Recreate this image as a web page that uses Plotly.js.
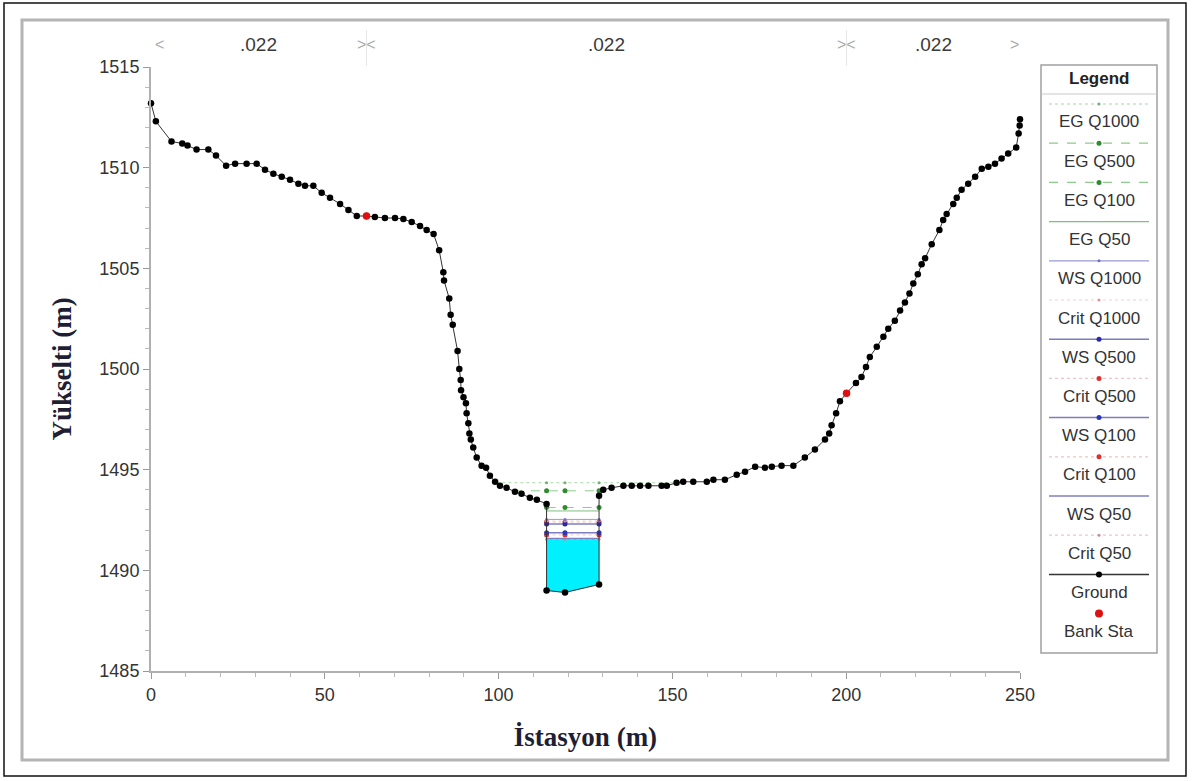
<!DOCTYPE html>
<html><head><meta charset="utf-8">
<script src="https://cdn.plot.ly/plotly-3.0.1.min.js"></script>
<style>html,body{margin:0;padding:0;background:#fff}#chart{width:1192px;height:781px}</style>
</head><body><div id="chart"></div>
<script>
// ---------------- DATA ----------------
const groundX = [0.0,1.4,5.9,9.0,10.5,13.1,16.5,18.7,21.6,24.2,27.5,30.4,32.8,35.2,37.6,40.0,42.4,44.3,46.7,49.1,
  51.5,54.4,56.8,59.2,62.0,64.4,67.3,70.2,72.6,75.0,77.4,79.3,81.3,82.9,84.1,84.3,85.8,86.2,86.8,88.2,
  88.7,89.1,89.2,89.9,90.6,90.8,91.3,91.6,92.0,92.7,93.7,95.1,96.4,97.5,99.0,100.4,102.3,104.7,106.6,109.0,
  111.0,113.8,113.8,119.1,128.9,128.9,130.1,132.5,135.9,138.3,140.7,143.1,146.9,148.4,151.2,153.1,156.0,159.9,161.8,165.1,
  168.5,170.9,173.8,176.6,178.6,181.4,184.8,188.1,191.0,193.9,195.1,195.8,197.1,198.2,200.1,202.8,204.4,205.7,206.8,208.8,
  210.7,212.1,214.0,215.5,216.9,218.2,219.3,220.6,221.7,222.7,224.6,226.8,227.9,228.9,230.8,231.8,233.2,235.1,237.1,239.0,
  240.9,242.8,244.7,246.6,248.9,249.6,249.9,250.0];
const groundY = [1513.2,1512.3,1511.3,1511.2,1511.1,1510.9,1510.9,1510.6,1510.1,1510.2,1510.2,1510.2,1509.9,1509.7,1509.55,1509.4,1509.2,1509.1,1509.1,1508.75,
  1508.5,1508.2,1507.9,1507.6,1507.6,1507.55,1507.5,1507.5,1507.45,1507.3,1507.1,1506.9,1506.7,1505.9,1504.8,1504.4,1503.5,1502.7,1502.2,1500.9,
  1500.0,1499.45,1498.95,1498.6,1498.3,1497.8,1497.3,1496.8,1496.5,1496.1,1495.6,1495.2,1495.1,1494.7,1494.4,1494.2,1494.1,1493.9,1493.8,1493.6,
  1493.5,1493.3,1489.0,1488.9,1489.3,1493.7,1494.0,1494.1,1494.2,1494.2,1494.2,1494.2,1494.2,1494.2,1494.35,1494.4,1494.4,1494.4,1494.5,1494.5,
  1494.75,1494.9,1495.15,1495.1,1495.15,1495.2,1495.2,1495.6,1496.0,1496.5,1496.8,1497.2,1497.8,1498.4,1498.8,1499.3,1499.6,1500.1,1500.6,1501.1,
  1501.6,1502.0,1502.4,1502.9,1503.3,1503.75,1504.25,1504.7,1505.2,1505.5,1506.2,1506.9,1507.4,1507.7,1508.2,1508.5,1508.9,1509.2,1509.55,1509.95,
  1510.05,1510.2,1510.45,1510.7,1511.0,1511.7,1512.1,1512.4];
const bankX = [62.0, 200.1];
const bankY = [1507.6, 1498.8];
const profileNames = ['EG Q1000','EG Q500','EG Q100','EG Q50','WS Q1000','Crit Q1000','WS Q500','Crit Q500','WS Q100','Crit Q100','WS Q50','Crit Q50'];
const profileLevels = [1494.35,1493.95,1493.12,1492.95,1492.53,1492.45,1492.30,1492.40,1491.87,1491.76,1491.58,1491.55];
const legendNames = ['EG Q1000','EG Q500','EG Q100','EG Q50','WS Q1000','Crit Q1000','WS Q500','Crit Q500','WS Q100','Crit Q100','WS Q50','Crit Q50','Ground','Bank Sta'];
const nValues = [0.022, 0.022, 0.022];
const xTicks = [0,50,100,150,200,250];
const yTicks = [1485,1490,1495,1500,1505,1510,1515];

// ---------------- STYLES ----------------
const styles = {
  'EG Q1000':  {lc:'#a8d8a8', dash:'dot',  w:1,   mc:'#70b070', ms:3},
  'EG Q500':   {lc:'#8ccc8c', dash:'dash', w:1,   mc:'#2e8b2e', ms:5},
  'EG Q100':   {lc:'#8ccc8c', dash:'dash', w:1,   mc:'#2e8b2e', ms:5},
  'EG Q50':    {lc:'#7dbf7d', dash:'solid',w:1,   mc:null,      ms:0},
  'WS Q1000':  {lc:'#9a9ad6', dash:'solid',w:1,   mc:'#7070c8', ms:3},
  'Crit Q1000':{lc:'#f2d0d0', dash:'dot',  w:1,   mc:'#e89090', ms:3},
  'WS Q500':   {lc:'#7c7cc0', dash:'solid',w:1.5, mc:'#2828a8', ms:5},
  'Crit Q500': {lc:'#f0c4c4', dash:'dot',  w:1,   mc:'#e03030', ms:5},
  'WS Q100':   {lc:'#7c7cc0', dash:'solid',w:1.5, mc:'#2838b8', ms:5},
  'Crit Q100': {lc:'#f0c4c4', dash:'dot',  w:1,   mc:'#e03030', ms:5},
  'WS Q50':    {lc:'#8080c0', dash:'solid',w:1.5, mc:null,      ms:0},
  'Crit Q50':  {lc:'#ecc8c8', dash:'dot',  w:1,   mc:'#c89090', ms:3},
  'Ground':    {lc:'#333333', dash:'solid',w:1.5, mc:'#000000', ms:6},
  'Bank Sta':  {lc:null,      dash:'solid',w:0,   mc:'#e01010', ms:8}
};

// ---------------- GEOMETRY HELPERS ----------------
const L = 151, R = 1020, T = 67, B = 671;
const px2paperX = p => (p - L) / (R - L);
const px2paperY = p => (B - p) / (B - T);

let tIdx = 0;
groundY.forEach((y, i) => { if (y < groundY[tIdx]) tIdx = i; });

function crossing(level) {
  let i = tIdx;
  while (i > 0 && groundY[i] < level) i--;
  const xl = groundX[i] + (level - groundY[i]) * (groundX[i+1] - groundX[i]) / (groundY[i+1] - groundY[i]);
  let j = tIdx;
  while (j < groundY.length - 1 && groundY[j] < level) j++;
  const xr = groundX[j-1] + (level - groundY[j-1]) * (groundX[j] - groundX[j-1]) / (groundY[j] - groundY[j-1]);
  return {xl, xr, il: i, ir: j};
}

const minLevel = Math.min(...profileLevels);
const channelStations = [...new Set(groundX.filter((x, i) => groundY[i] < minLevel))];

const traces = [];

// water fill (lowest WS profile)
const wsIdx = profileNames.indexOf('WS Q50');
const wsLevel = profileLevels[wsIdx];
const c0 = crossing(wsLevel);
const fx = [c0.xl], fy = [wsLevel];
for (let k = c0.il + 1; k < c0.ir; k++) { fx.push(groundX[k]); fy.push(groundY[k]); }
fx.push(c0.xr, c0.xl); fy.push(wsLevel, wsLevel);
traces.push({x: fx, y: fy, mode: 'lines', fill: 'toself', fillcolor: '#00f0ff',
  line: {width: 0.5, color: '#00e0f0'}, hoverinfo: 'skip', showlegend: false});

// profile lines
const order = [11,10,9,8,7,6,5,4,3,2,1,0];
order.forEach(k => {
  const name = profileNames[k], lev = profileLevels[k], st = styles[name];
  const c = crossing(lev);
  traces.push({x: [c.xl, c.xr], y: [lev, lev], mode: 'lines', name: name,
    line: {color: st.lc, width: st.w, dash: st.dash}, showlegend: false, hoverinfo: 'name+y'});
  if (st.mc) {
    traces.push({x: channelStations, y: channelStations.map(() => lev), mode: 'markers', name: name,
      marker: {color: st.mc, size: st.ms}, showlegend: false, hoverinfo: 'name+y'});
  }
});

// ground
traces.push({x: groundX, y: groundY, mode: 'lines+markers', name: 'Ground',
  line: {color: styles['Ground'].lc, width: 1}, marker: {color: '#000', size: 6.5, symbol: 'circle'},
  cliponaxis: false, showlegend: false});
// bank stations
traces.push({x: bankX, y: bankY, mode: 'markers', name: 'Bank Sta',
  marker: {color: styles['Bank Sta'].mc, size: 7.5}, showlegend: false});

// ---------------- SHAPES & ANNOTATIONS ----------------
const shapes = [];
const annotations = [];
const ann = o => annotations.push(Object.assign({showarrow: false, xanchor: 'center', yanchor: 'middle'}, o));

// outer frames
shapes.push({type:'rect', xref:'paper', yref:'paper', x0:px2paperX(4), x1:px2paperX(1186), y0:px2paperY(776), y1:px2paperY(3),
  line:{color:'#111', width:1.5}, layer:'below'});
shapes.push({type:'rect', xref:'paper', yref:'paper', x0:px2paperX(22), x1:px2paperX(1168), y0:px2paperY(760), y1:px2paperY(20),
  line:{color:'#b4b4b4', width:3}, layer:'below'});

// Manning n labels and bank arrows on top
const nMid = [ (0 + bankX[0]) / 2, (bankX[0] + bankX[1]) / 2, (bankX[1] + 250) / 2 ];
const nY = px2paperY(45);
nValues.forEach((n, i) => {
  ann({x: nMid[i], xref:'x', y: nY, yref:'paper', text: n.toFixed(3).replace(/^0/, ''),
    font:{family:'Liberation Sans, Arial', size:19, color:'#3a3a3a'}});
});
const arrowX = [0, bankX[0], bankX[1], 250];
const arrowT = ['&lt;', '&gt;&lt;', '&gt;&lt;', '&gt;'];
const arrowShift = [8, 0, 0, -6];
arrowX.forEach((x, i) => {
  ann({x: x, xref:'x', y: nY, yref:'paper', text: arrowT[i], xshift: arrowShift[i],
    font:{family:'Liberation Sans, Arial', size:16, color:'#aaaaaa'}});
});
bankX.forEach(x => {
  shapes.push({type:'line', xref:'x', yref:'paper', x0:x, x1:x, y0:px2paperY(66), y1:px2paperY(30),
    line:{color:'#e6e6e6', width:1}});
});

// custom legend
const lgL = 1041, lgR = 1157, lgT = 65, lgB = 653;
shapes.push({type:'rect', xref:'paper', yref:'paper', x0:px2paperX(lgL), x1:px2paperX(lgR), y0:px2paperY(lgB), y1:px2paperY(lgT),
  line:{color:'#a0a0a0', width:1.5}, fillcolor:'#fff'});
shapes.push({type:'line', xref:'paper', yref:'paper', x0:px2paperX(lgL), x1:px2paperX(lgR), y0:px2paperY(94), y1:px2paperY(94),
  line:{color:'#c8c8c8', width:1}});
const lgCx = (lgL + lgR) / 2;
ann({x: px2paperX(lgCx), xref:'paper', y: px2paperY(78), yref:'paper', text:'<b>Legend</b>',
  font:{family:'Liberation Sans, Arial', size:17, color:'#222'}});
legendNames.forEach((name, i) => {
  const st = styles[name];
  const ly = 104 + i * 39.2;
  if (st.lc) {
    shapes.push({type:'line', xref:'paper', yref:'paper', x0:px2paperX(1049), x1:px2paperX(1149), y0:px2paperY(ly), y1:px2paperY(ly),
      line:{color:st.lc, width: Math.max(st.w, 1.2), dash: st.dash}});
  }
  if (st.mc) {
    const r = st.ms / 2;
    shapes.push({type:'circle', xref:'paper', yref:'paper', xsizemode:'pixel', ysizemode:'pixel',
      xanchor: px2paperX(lgCx), yanchor: px2paperY(ly), x0:-r, x1:r, y0:-r, y1:r,
      fillcolor: st.mc, line:{color: st.mc, width: 0}});
  }
  ann({x: px2paperX(lgCx), xref:'paper', y: px2paperY(ly + 18), yref:'paper', text: name,
    font:{family:'Liberation Sans, Arial', size:17, color:'#333'}});
});

const axisCommon = {
  showline: true, linecolor: '#b0b0b0', linewidth: 2, mirror: false,
  ticks: 'outside', ticklen: 6, tickcolor: '#999', tickwidth: 1,
  showgrid: false, zeroline: false,
  tickfont: {family: 'Liberation Sans, Arial', size: 18, color: '#333'}
};

const layout = {
  width: 1192, height: 781,
  margin: {l: L, r: 1192 - R, t: T, b: 781 - B, pad: 0},
  paper_bgcolor: '#fff', plot_bgcolor: '#fff',
  showlegend: false,
  xaxis: Object.assign({}, axisCommon, {
    range: [0, 250], tickvals: xTicks, ticktext: xTicks.map(String),
    minor: {dtick: 10, ticks: 'outside', ticklen: 4, tickcolor: '#bbb'},
    title: {text: '<b>İstasyon (m)</b>', standoff: 24,
      font: {family: 'Liberation Serif, Times New Roman, serif', size: 27, color: '#1e1e34'}}
  }),
  yaxis: Object.assign({}, axisCommon, {
    range: [1485, 1515], tickvals: yTicks, ticktext: yTicks.map(String),
    minor: {dtick: 1, ticks: 'outside', ticklen: 4, tickcolor: '#bbb'},
    title: {text: '<b>Yükselti (m)</b>', standoff: 20,
      font: {family: 'Liberation Serif, Times New Roman, serif', size: 27, color: '#1e1e34'}}
  }),
  shapes: shapes,
  annotations: annotations
};

Plotly.newPlot('chart', traces, layout, {displayModeBar: false, staticPlot: true});
</script>
</body></html>
